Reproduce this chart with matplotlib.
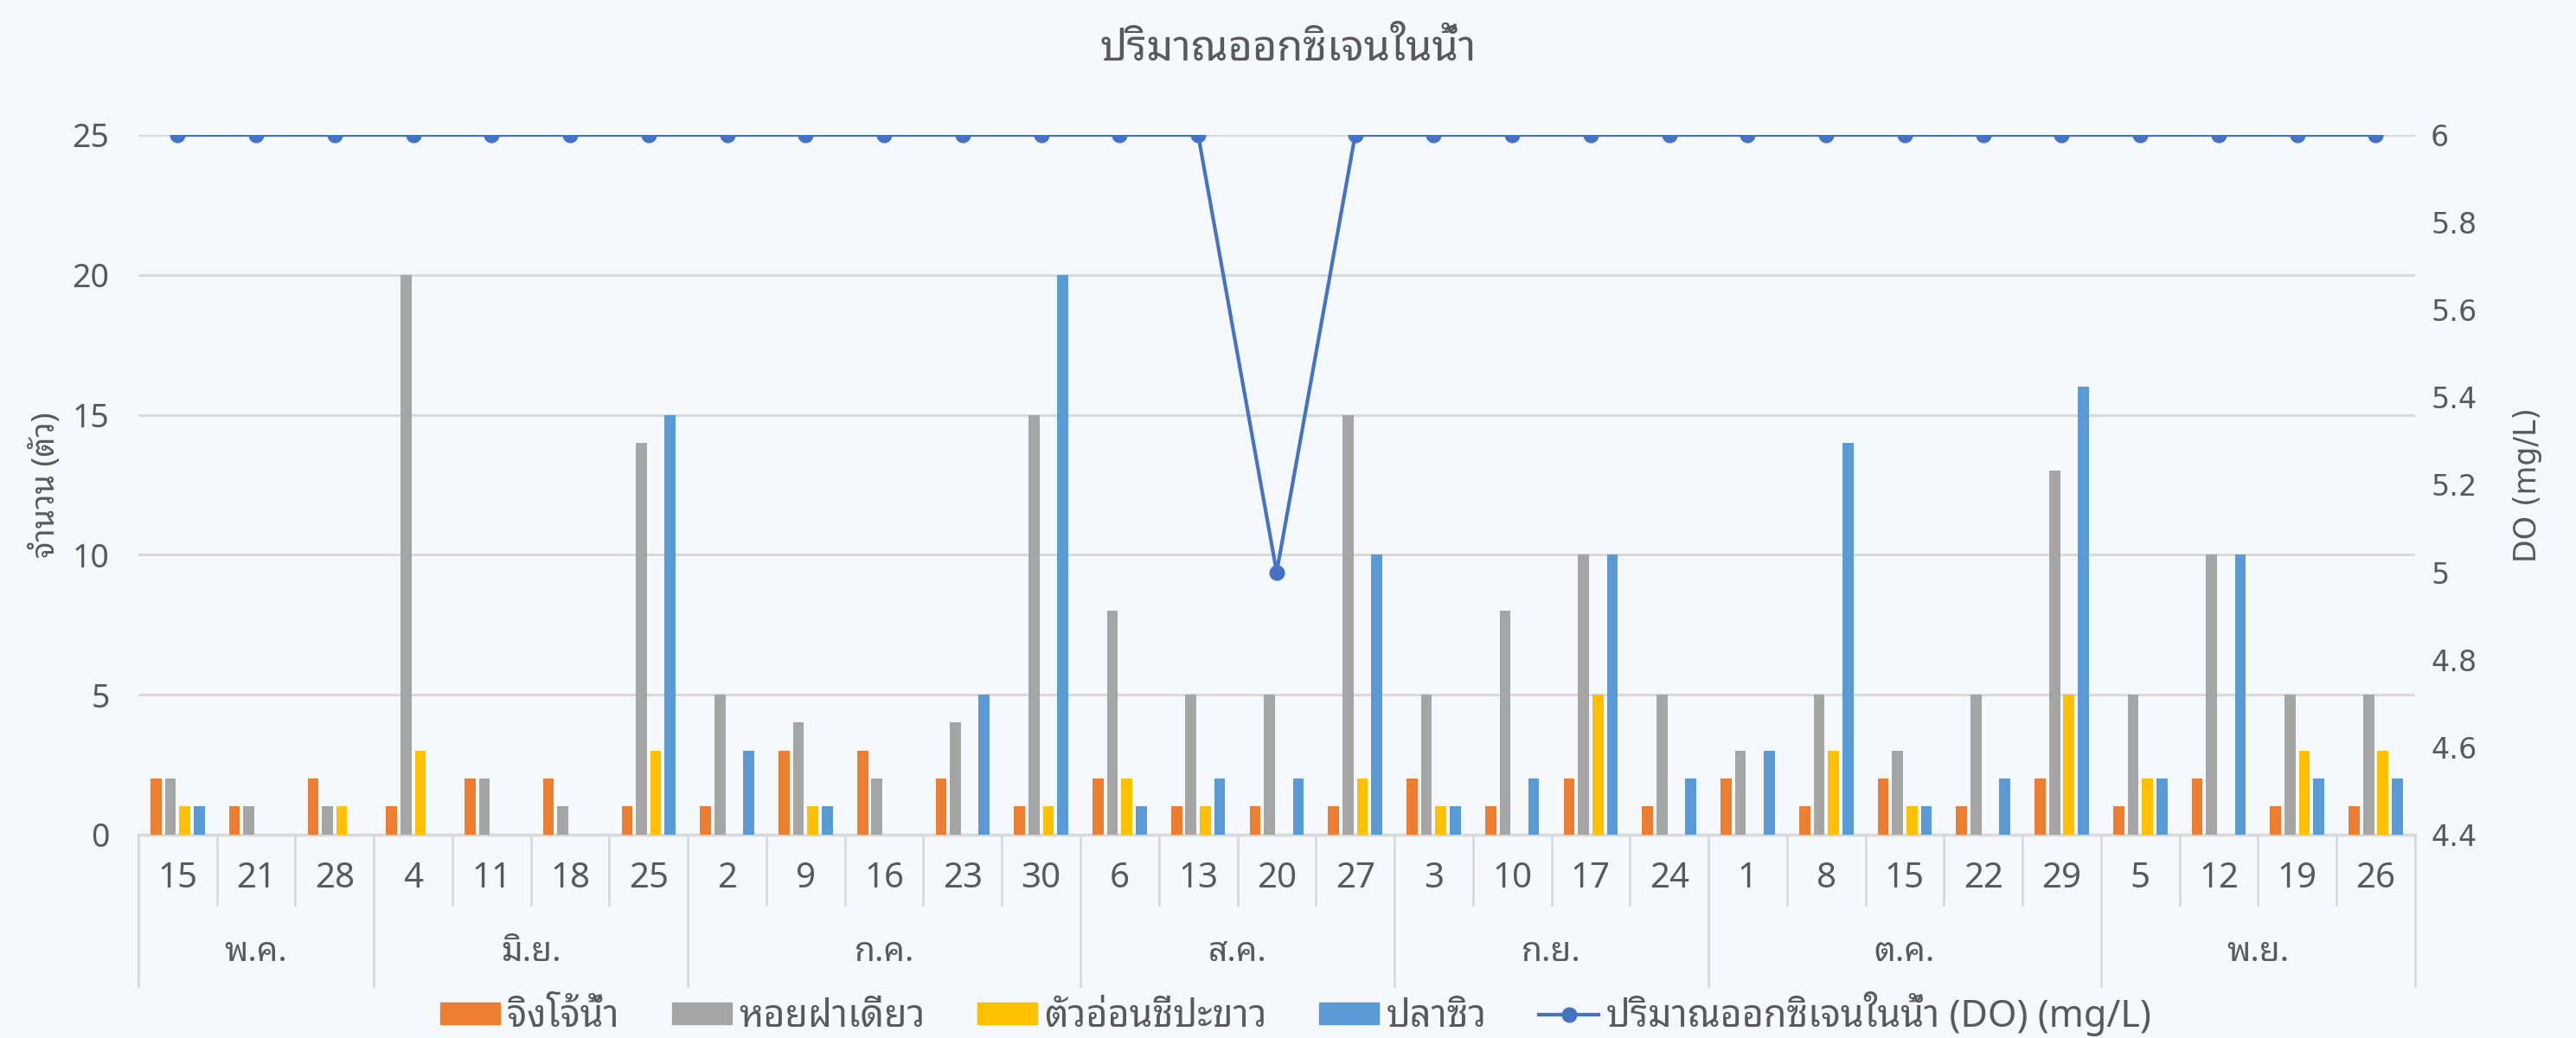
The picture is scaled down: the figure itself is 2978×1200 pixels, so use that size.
import matplotlib
matplotlib.use('Agg')
import matplotlib.pyplot as plt
import matplotlib.transforms as mtransforms
from matplotlib import font_manager
from matplotlib.lines import Line2D
from matplotlib.patches import Patch
import numpy as np

# data
months = ['พ.ค.', 'มิ.ย.', 'ก.ค.', 'ส.ค.', 'ก.ย.', 'ต.ค.', 'พ.ย.']
month_sizes = [3, 4, 5, 4, 4, 5, 4]
days = ['15', '21', '28', '4', '11', '18', '25', '2', '9', '16', '23', '30', '6', '13',
        '20', '27', '3', '10', '17', '24', '1', '8', '15', '22', '29', '5', '12', '19', '26']

jingjo = [2, 1, 2, 1, 2, 2, 1, 1, 3, 3, 2, 1, 2, 1, 1, 1, 2, 1, 2, 1, 2, 1, 2, 1, 2, 1, 2, 1, 1]
hoi = [2, 1, 1, 20, 2, 1, 14, 5, 4, 2, 4, 15, 8, 5, 5, 15, 5, 8, 10, 5, 3, 5, 3, 5, 13, 5, 10, 5, 5]
tuaon = [1, 0, 1, 3, 0, 0, 3, 0, 1, 0, 0, 1, 2, 1, 0, 2, 1, 0, 5, 0, 0, 3, 1, 0, 5, 2, 0, 3, 3]
plasiw = [1, 0, 0, 0, 0, 0, 15, 3, 1, 0, 5, 20, 1, 2, 2, 10, 1, 2, 10, 2, 3, 14, 1, 2, 16, 2, 10, 2, 2]
do_vals = [6, 6, 6, 6, 6, 6, 6, 6, 6, 6, 6, 6, 6, 6, 5, 6, 6, 6, 6, 6, 6, 6, 6, 6, 6, 6, 6, 6, 6]

series_names = ['จิงโจ้น้ำ', 'หอยฝาเดียว', 'ตัวอ่อนชีปะขาว', 'ปลาซิว']
series_colors = ['#ED7D31', '#A5A5A5', '#FFC000', '#5B9BD5']
line_name = 'ปริมาณออกซิเจนในน้ำ (DO) (mg/L)'

installed = {f.name for f in font_manager.fontManager.ttflist}
thai_list = [f for f in ['Noto Sans Thai Looped', 'Loma', 'Noto Sans Thai'] if f in installed]
plt.rcParams['font.family'] = thai_list + ['DejaVu Sans']

text_color = '#595959'
grid_color = '#D9D9D9'
bg = '#F5F9FE'

fig = plt.figure(figsize=(29.78, 12), dpi=100, facecolor=bg)
ax = fig.add_axes([0.0537, 0.196, 0.8838, 0.674])
ax.set_facecolor(bg)

x = np.arange(len(days))
bw = 0.14
offsets = [-0.275, -0.0915, 0.0915, 0.275]
for vals, off, col, name in zip([jingjo, hoi, tuaon, plasiw], offsets, series_colors, series_names):
    ax.bar(x + off, vals, width=bw, color=col, label=name, zorder=3)

ax.set_xlim(-0.5, len(days) - 0.5)
ax.set_ylim(0, 25)
ax.set_yticks([0, 5, 10, 15, 20, 25])
ax.yaxis.grid(True, color=grid_color, lw=2.2, zorder=0)
ax.set_axisbelow(True)
for s in ['top', 'right', 'left']:
    ax.spines[s].set_visible(False)
ax.spines['bottom'].set_color(grid_color)
ax.spines['bottom'].set_linewidth(2.5)
ax.tick_params(axis='y', length=0, pad=24, labelsize=27, labelcolor=text_color)
ax.set_xticks([])
ax.set_ylabel('จำนวน (ตัว)', fontsize=26, color=text_color, labelpad=8)

# two-level category axis
trans = mtransforms.blended_transform_factory(ax.transData, ax.transAxes)
for i, d in enumerate(days):
    ax.text(i, -0.063, d, transform=trans, ha='center', va='center', fontsize=29, color=text_color)
bounds = np.cumsum([0] + month_sizes)
for i in range(len(days) + 1):
    depth = -0.216 if i in bounds else -0.1
    ax.plot([i - 0.5, i - 0.5], [0, depth], transform=trans, clip_on=False, color=grid_color, lw=2)
for m, a, b in zip(months, bounds[:-1], bounds[1:]):
    ax.text((a + b - 1) / 2, -0.168, m, transform=trans, ha='center', va='center', fontsize=28, color=text_color)

# DO line on secondary axis
ax2 = ax.twinx()
ax2.plot(x, do_vals, color='#4472C4', lw=3, marker='o', markersize=12, zorder=5)
ax2.set_ylim(4.4, 6)
ax2.set_yticks([4.4, 4.6, 4.8, 5.0, 5.2, 5.4, 5.6, 5.8, 6.0])
ax2.set_yticklabels(['4.4', '4.6', '4.8', '5', '5.2', '5.4', '5.6', '5.8', '6'], family='DejaVu Sans')
for s in ax2.spines.values():
    s.set_visible(False)
ax2.tick_params(axis='y', length=0, pad=13, labelsize=24, labelcolor=text_color)
ax2.set_ylabel('DO (mg/L)', fontsize=25, color=text_color, labelpad=30, family='DejaVu Sans')

fig.text(0.5, 1 - 57 / 1200, 'ปริมาณออกซิเจนในน้ำ', ha='center', va='center', fontsize=35, color=text_color)

handles = [Patch(color=c) for c in series_colors]
handles.append(Line2D([], [], color='#4472C4', lw=3, marker='o', markersize=12))
fig.legend(handles, series_names + [line_name], loc='center', bbox_to_anchor=(0.503, 1 - 1172 / 1200),
           ncol=5, frameon=False, fontsize=31, handlelength=1.6, handleheight=0.5,
           columnspacing=1.4, handletextpad=0.2, labelcolor=text_color, borderpad=0.1)

fig.savefig('out.png', dpi=100, facecolor=bg)
